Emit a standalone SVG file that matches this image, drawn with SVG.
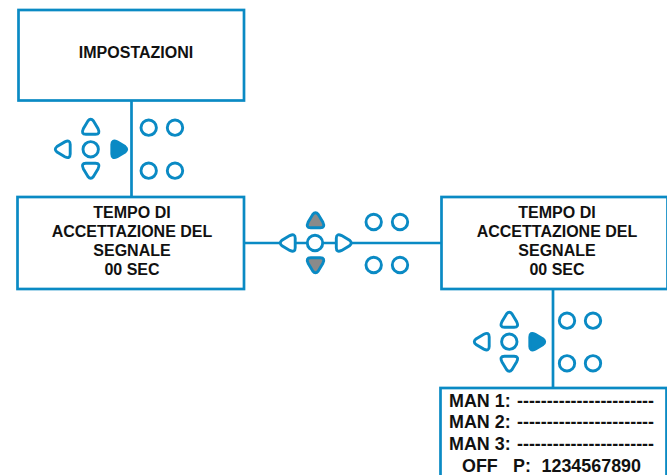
<svg xmlns="http://www.w3.org/2000/svg" width="667" height="475" viewBox="0 0 667 475">
<style>
.b{fill:#fff;stroke:#0A8AC4;stroke-width:2.700}
.l{fill:none;stroke:#0A8AC4;stroke-width:2.700}
.o{fill:#fff;stroke:#0A8AC4;stroke-width:2.900}
.on{fill:#0A8AC4;stroke:#0A8AC4;stroke-width:2.900}
.g{fill:#8A8A8A;stroke:#0A8AC4;stroke-width:2.900}
text{font-family:"Liberation Sans",Arial,sans-serif;font-weight:700;fill:#111}
.t{font-size:16px;text-anchor:middle}
.m{font-size:17.900px}
</style>
<defs>
<path id="tri" d="M-2.800,-6Q0,-9.400 2.800,-6L7.400,1.800Q10,7.200 4.800,7.200L-4.800,7.200Q-10,7.200 -7.400,1.800Z"/>
<circle id="c" r="7.700"/>
</defs>
<rect width="667" height="475" fill="#fff"/>
<g id="connectors">
<path class="l" d="M131.500 100V197M244 243H441M553 289V388"/>
</g>
<g id="node-impostazioni">
<rect class="b" x="18.500" y="10" width="225.500" height="90.500"/>
<text class="t" x="136" y="58">IMPOSTAZIONI</text>
</g>
<g id="keypad-1">
<use href="#tri" class="o" transform="translate(90.700 127)"/>
<use href="#c" class="o" x="90.700" y="149.300"/>
<use href="#tri" class="o" transform="translate(90.700 170.500) rotate(180)"/>
<use href="#tri" class="o" transform="translate(63 149.300) rotate(-90)"/>
<use href="#tri" class="on" transform="translate(119 149.300) rotate(90)"/>
<use href="#c" class="o" x="148.700" y="127.700"/>
<use href="#c" class="o" x="175" y="127.700"/>
<use href="#c" class="o" x="148.700" y="170.700"/>
<use href="#c" class="o" x="175" y="170.700"/>
</g>
<g id="node-tempo-1">
<rect class="b" x="17.500" y="197" width="226.500" height="92"/>
<text class="t"><tspan x="132" y="218">TEMPO DI</tspan><tspan x="132" y="237">ACCETTAZIONE DEL</tspan><tspan x="132" y="256">SEGNALE</tspan><tspan x="132" y="274.500">00 SEC</tspan></text>
</g>
<g id="keypad-2">
<use href="#tri" class="g" transform="translate(315.500 220.500)"/>
<use href="#c" class="o" x="315" y="243"/>
<use href="#tri" class="g" transform="translate(315.500 265) rotate(180)"/>
<use href="#tri" class="o" transform="translate(288 243) rotate(-90)"/>
<use href="#tri" class="o" transform="translate(343.500 243) rotate(90)"/>
<use href="#c" class="o" x="373.700" y="222"/>
<use href="#c" class="o" x="400" y="222"/>
<use href="#c" class="o" x="373.700" y="265"/>
<use href="#c" class="o" x="400" y="265"/>
</g>
<g id="node-tempo-2">
<rect class="b" x="441.500" y="197" width="226" height="92"/>
<text class="t"><tspan x="557" y="218">TEMPO DI</tspan><tspan x="557" y="237">ACCETTAZIONE DEL</tspan><tspan x="557" y="256">SEGNALE</tspan><tspan x="557" y="274.500">00 SEC</tspan></text>
</g>
<g id="keypad-3">
<use href="#tri" class="o" transform="translate(509.300 320)"/>
<use href="#c" class="o" x="509.300" y="341.700"/>
<use href="#tri" class="o" transform="translate(509.300 363.500) rotate(180)"/>
<use href="#tri" class="o" transform="translate(482 341.700) rotate(-90)"/>
<use href="#tri" class="on" transform="translate(537 341.700) rotate(90)"/>
<use href="#c" class="o" x="567" y="320.700"/>
<use href="#c" class="o" x="593" y="320.700"/>
<use href="#c" class="o" x="567" y="363.300"/>
<use href="#c" class="o" x="593" y="363.300"/>
</g>
<g id="node-man">
<rect class="b" x="440.500" y="388" width="226" height="90"/>
<text class="m"><tspan x="449" y="406.500">MAN 1:</tspan><tspan x="517" y="406.500">-----------------------</tspan><tspan x="449" y="428">MAN 2:</tspan><tspan x="517" y="428">-----------------------</tspan><tspan x="449" y="450">MAN 3:</tspan><tspan x="517" y="450">-----------------------</tspan><tspan x="462" y="472">OFF</tspan><tspan x="513" y="472">P:</tspan><tspan x="541.500" y="472">1234567890</tspan></text>
</g>
</svg>
